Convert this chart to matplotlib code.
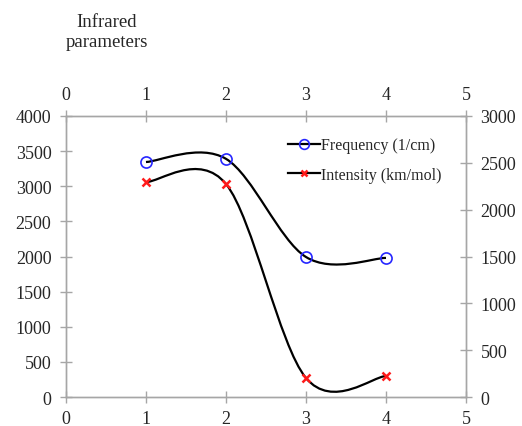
import numpy as np
import matplotlib
matplotlib.use('Agg')
import matplotlib.pyplot as plt
from matplotlib.path import Path
from matplotlib.patches import PathPatch
from matplotlib.lines import Line2D

plt.rcParams['font.family'] = ['Liberation Serif', 'DejaVu Serif']

x = [1, 2, 3, 4]
frequency = [3345, 3390, 1993, 1980]   # left axis, 1/cm
intensity = [2295, 2274, 203, 224]     # right axis, km/mol

x_ticks = [0, 1, 2, 3, 4, 5]
left_ticks = [0, 500, 1000, 1500, 2000, 2500, 3000, 3500, 4000]
right_ticks = [0, 500, 1000, 1500, 2000, 2500, 3000]


def smooth_path(xs, ys):
    # Excel-like smoothed line: cubic Bezier segments, Catmull-Rom style handles
    pts = np.column_stack([xs, ys]).astype(float)
    n = len(pts)
    verts = [pts[0]]
    codes = [Path.MOVETO]
    for i in range(n - 1):
        p_prev = pts[i - 1] if i > 0 else pts[i]
        p_next2 = pts[i + 2] if i + 2 < n else pts[i + 1]
        c1 = pts[i] + (pts[i + 1] - p_prev) / 6
        c2 = pts[i + 1] - (p_next2 - pts[i]) / 6
        verts += [c1, c2, pts[i + 1]]
        codes += [Path.CURVE4] * 3
    return Path(verts, codes)


axis_grey = '#a6a6a6'
text_col = '#262626'

fig = plt.figure(figsize=(5.22, 4.27), dpi=100)
ax = fig.add_axes([0.1264, 0.0679, 0.7663, 0.6581])
ax2 = ax.twinx()

ax.set_xlim(0, 5)
ax.set_ylim(0, 4000)
ax2.set_ylim(0, 3000)
ax.set_xticks(x_ticks)
ax.set_yticks(left_ticks)
ax2.set_yticks(right_ticks)

for a in (ax, ax2):
    for s in a.spines.values():
        s.set_color(axis_grey)
        s.set_linewidth(1.0)
    a.tick_params(direction='inout', length=9, width=1.0, color=axis_grey,
                  labelsize=13, labelcolor=text_col)
ax.tick_params(axis='x', top=True, labeltop=True, pad=5)
ax.tick_params(axis='y', pad=6)
ax2.tick_params(axis='y', pad=6)

ax.add_patch(PathPatch(smooth_path(x, frequency), fill=False, edgecolor='black',
                       linewidth=1.6, zorder=3))
ax2.add_patch(PathPatch(smooth_path(x, intensity), fill=False, edgecolor='black',
                        linewidth=1.6, zorder=3))
ax.plot(x, frequency, linestyle='none', marker='o', markersize=8,
        markerfacecolor='none', markeredgecolor='#2626ff', markeredgewidth=1.2, zorder=4)
ax2.plot(x, intensity, linestyle='none', marker='x', markersize=6,
         markeredgecolor='#ff1a1a', markeredgewidth=1.8, zorder=4)

handles = [
    Line2D([], [], color='black', linewidth=1.6, marker='o', markersize=7,
           markerfacecolor='none', markeredgecolor='#2626ff', markeredgewidth=1.2),
    Line2D([], [], color='black', linewidth=1.6, marker='x', markersize=5,
           markeredgecolor='#ff1a1a', markeredgewidth=1.8),
]
ax2.legend(handles, ['Frequency (1/cm)', 'Intensity (km/mol)'], loc='upper right',
           bbox_to_anchor=(0.975, 0.975), frameon=False, fontsize=11.5,
           handlelength=2.0, handletextpad=0.1, labelspacing=0.85,
           labelcolor=text_col)

fig.text(0.205, 0.968, 'Infrared\nparameters', ha='center', va='top',
         fontsize=13.5, color=text_col, linespacing=1.25)

fig.savefig('out.png', dpi=100)
